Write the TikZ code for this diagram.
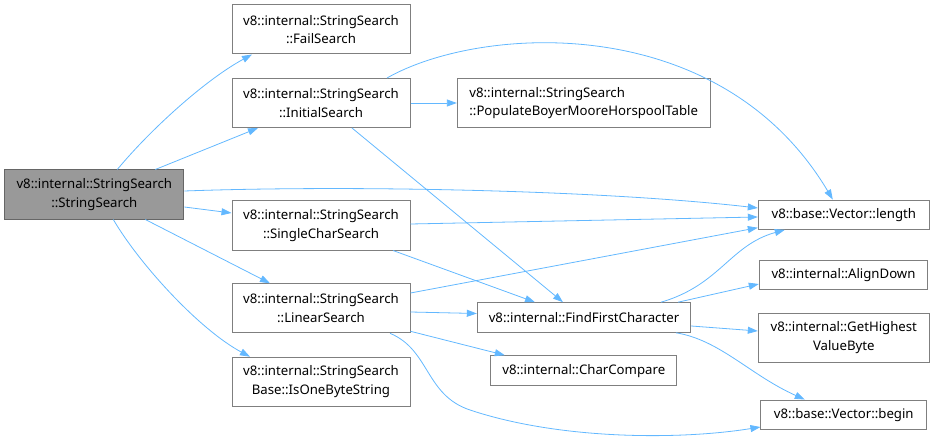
\documentclass[tikz,border=0pt]{standalone}
\usepackage{fontspec}
\setmainfont{Noto Sans}
\usetikzlibrary{arrows.meta}
\definecolor{edgeblue}{HTML}{63B8FF}
\definecolor{boxborder}{HTML}{7F7F7F}
\definecolor{mainfill}{HTML}{999999}
\definecolor{mainborder}{HTML}{666666}
\tikzset{
  fn/.style={draw=boxborder, line width=1pt, fill=white, inner sep=0pt, align=center,
    font=\fontsize{13.2}{18.7}\selectfont, text=black},
  mainfn/.style={fn, draw=mainborder, fill=mainfill},
  call/.style={draw=edgeblue, line width=0.8pt, -{Triangle[length=10pt,width=7pt]}}
}
\begin{document}
\begin{tikzpicture}[x=1pt,y=-1pt]
\useasboundingbox (0,0) rectangle (935,441);
\node[mainfn, minimum width=179.3pt, minimum height=49pt] (main) at (94.3,194.5) {v8::internal::StringSearch\\::StringSearch};
\node[fn, minimum width=178pt, minimum height=49pt] (fail) at (321,29.5) {v8::internal::StringSearch\\::FailSearch};
\node[fn, minimum width=178pt, minimum height=49pt] (init) at (321,103) {v8::internal::StringSearch\\::InitialSearch};
\node[fn, minimum width=252.7pt, minimum height=49pt, align=left] (pop) at (583.7,103) {v8::internal::StringSearch\\::PopulateBoyerMooreHorspoolTable};
\node[fn, minimum width=178pt, minimum height=49pt] (single) at (321,225.5) {v8::internal::StringSearch\\::SingleCharSearch};
\node[fn, minimum width=178pt, minimum height=49pt] (linear) at (321,308.3) {v8::internal::StringSearch\\::LinearSearch};
\node[fn, minimum width=178pt, minimum height=49pt] (isone) at (321,381.7) {v8::internal::StringSearch\\Base::IsOneByteString};
\node[fn, minimum width=171pt, minimum height=29.3pt] (length) at (843.8,214.7) {v8::base::Vector::length};
\node[fn, minimum width=168.4pt, minimum height=29.3pt] (align) at (843.5,274.7) {v8::internal::AlignDown};
\node[fn, minimum width=213.4pt, minimum height=29.6pt] (ffc) at (584,317.5) {v8::internal::FindFirstCharacter};
\node[fn, minimum width=171pt, minimum height=48.7pt] (ghvb) at (843.8,337.7) {v8::internal::GetHighest\\ValueByte};
\node[fn, minimum width=185.7pt, minimum height=30pt] (charcmp) at (583.8,370.7) {v8::internal::CharCompare};
\node[fn, minimum width=165.7pt, minimum height=29.3pt] (begin) at (843.8,414.7) {v8::base::Vector::begin};

\draw[call] ([xshift=23pt]main.north) .. controls (150,130) and (205,80) .. ([xshift=-69pt]fail.south);
\draw[call] ([xshift=61pt]main.north) -- ([xshift=-63pt]init.south);
\draw[call] ([yshift=3.5pt]main.east) .. controls (350,185) and (600,190) .. ([yshift=6.7pt]length.west);
\draw[call] ([yshift=-12.5pt]main.east) -- ([yshift=12.5pt]single.west);
\draw[call] ([xshift=51pt]main.south) -- ([xshift=-51pt]linear.north);
\draw[call] ([xshift=19pt]main.south) .. controls (140,265) and (200,330) .. ([xshift=-71pt]isone.north);
\draw[call] (init.east) -- (pop.west);
\draw[call] ([xshift=66pt]init.north) .. controls (480,25) and (720,10) .. ([xshift=-11pt]length.north);
\draw[call] ([xshift=31pt]init.south) -- ([xshift=-21pt]ffc.north);
\draw[call] ([yshift=1.5pt]single.east) -- ([yshift=-2.3pt]length.west);
\draw[call] ([xshift=72pt]single.south) -- ([xshift=-49pt]ffc.north);
\draw[call] ([yshift=15.3pt]linear.east) -- ([yshift=-13pt]length.west);
\draw[call] ([yshift=-3.7pt]linear.east) -- ([yshift=4pt]ffc.west);
\draw[call] ([yshift=-23pt]linear.east) -- ([xshift=-79pt]charcmp.north);
\draw[call] ([xshift=69pt]linear.south) .. controls (430,350) and (425,395) .. (470,410) .. controls (560,440) and (680,440) .. ([yshift=-12.3pt]begin.west);
\draw[call] ([xshift=77pt]ffc.north) .. controls (720,285) and (730,245) .. ([xshift=-59pt]length.south);
\draw[call] ([xshift=94pt]ffc.north) -- ([yshift=-9.3pt]align.west);
\draw[call] ([yshift=-8.5pt]ffc.east) -- ([yshift=6.7pt]ghvb.west);
\draw[call] ([xshift=92pt]ffc.south) .. controls (720,340) and (750,375) .. ([xshift=-39pt]begin.north);
\end{tikzpicture}
\end{document}
